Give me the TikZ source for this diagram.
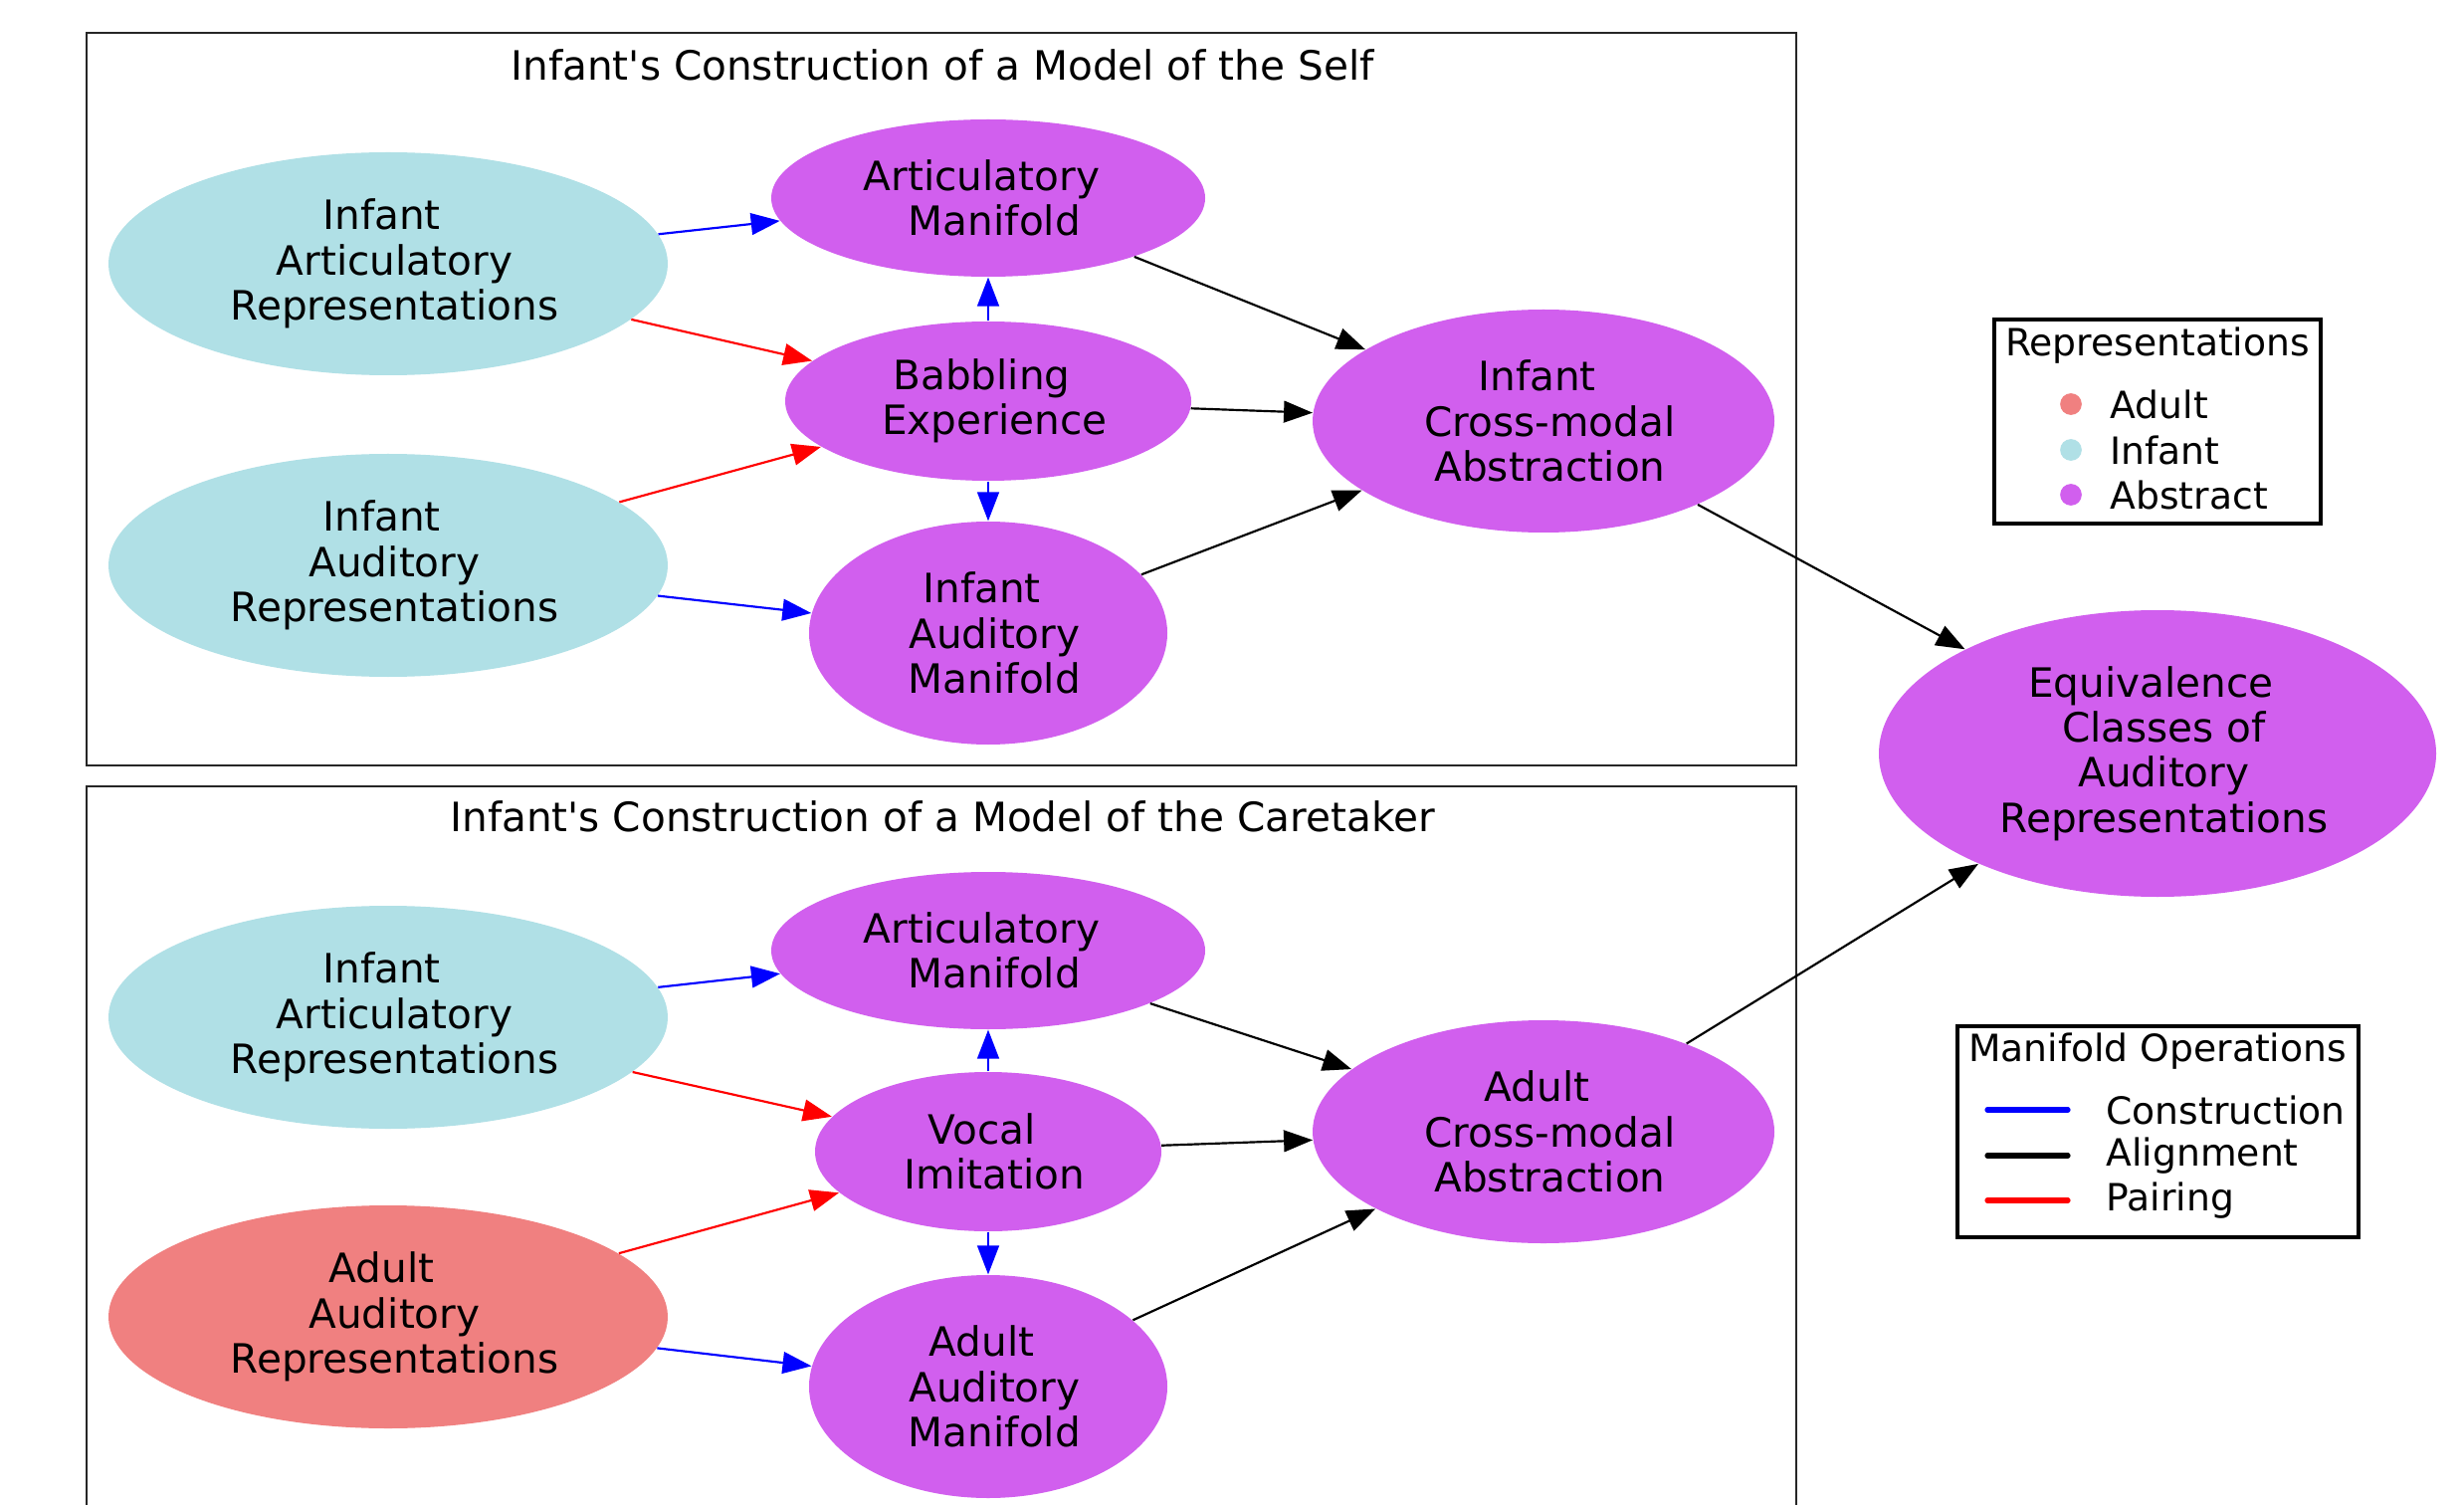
\documentclass[tikz,border=0pt]{standalone}
\usepackage{fontspec}
\setmainfont{DejaVu Sans}
\newfontfamily\dvs{DejaVu Sans}
\usetikzlibrary{shapes.geometric,arrows.meta}
\definecolor{pblue}{HTML}{B0E0E6}
\definecolor{lcoral}{HTML}{F08080}
\definecolor{orchid}{HTML}{D15FEE}
\newcommand\gsp{\hspace*{4.45pt}}
\tikzset{
  el/.style n args={3}{ellipse, draw=none, fill=#3, inner sep=0pt,
    minimum width=#1*0.69pt, minimum height=#2*0.69pt, align=center,
    font=\dvs\fontsize{14}{15.6}\selectfont},
  txt/.style={inner sep=0pt, font=\dvs\fontsize{14}{15.6}\selectfont},
  legtxt/.style={inner sep=0pt, font=\dvs\fontsize{13}{15}\selectfont},
  con/.style={-{Triangle[length=10pt,width=7.5pt]}, line width=0.75pt},
  cluster/.style={draw=black!85, line width=0.7pt},
  legbox/.style={draw=black, line width=1.2pt, rectangle, inner sep=0pt},
  legline/.style={line width=1.8pt, line cap=round},
  legdot/.style={circle, inner sep=0pt, minimum size=7.5pt, fill=#1},
}
\begin{document}
\begin{tikzpicture}[x=0.345pt,y=-0.345pt]
\clip (0,0) rectangle (2476,1512);
\fill[white] (0,0) rectangle (2476,1512);

% clusters
\draw[cluster] (87,33) rectangle (1805,769);
\draw[cluster] (87,790) rectangle (1805,1560);
\node[txt] (t1) at (947,65) {Infant's Construction of a Model of the Self};
\node[txt] (t2) at (947,820) {Infant's Construction of a Model of the Caretaker};

% top cluster nodes
\node[el={281}{112}{pblue}] (iar1) at (390,265) {Infant\gsp\\\gsp Articulatory\gsp\\\gsp Representations};
\node[el={218}{79}{orchid}] (am1) at (993,199) {Articulatory\gsp\\\gsp Manifold};
\node[el={204}{80}{orchid}] (be) at (993,403) {Babbling\gsp\\\gsp Experience};
\node[el={281}{112}{pblue}] (iaur) at (390,568) {Infant\gsp\\\gsp Auditory\gsp\\\gsp Representations};
\node[el={180}{112}{orchid}] (iam) at (993,636) {Infant\gsp\\\gsp Auditory\gsp\\\gsp Manifold};
\node[el={232}{112}{orchid}] (ica) at (1551,423) {Infant\gsp\\\gsp Cross-modal\gsp\\\gsp Abstraction};

% equivalence
\node[el={280}{144}{orchid}] (eq) at (2168,757) {Equivalence\gsp\\\gsp Classes of\gsp\\\gsp Auditory\gsp\\\gsp Representations};

% bottom cluster nodes
\node[el={281}{112}{pblue}] (iar2) at (390,1022) {Infant\gsp\\\gsp Articulatory\gsp\\\gsp Representations};
\node[el={218}{79}{orchid}] (am2) at (993,955) {Articulatory\gsp\\\gsp Manifold};
\node[el={174}{80}{orchid}] (vi) at (993,1157) {Vocal\gsp\\\gsp Imitation};
\node[el={281}{112}{lcoral}] (aar) at (390,1323) {Adult\gsp\\\gsp Auditory\gsp\\\gsp Representations};
\node[el={180}{112}{orchid}] (aam) at (993,1393) {Adult\gsp\\\gsp Auditory\gsp\\\gsp Manifold};
\node[el={232}{112}{orchid}] (aca) at (1551,1137) {Adult\gsp\\\gsp Cross-modal\gsp\\\gsp Abstraction};

% top edges
\draw[con, blue] (iar1) -- (am1);
\draw[con, red] (iar1) -- (be);
\draw[con, red] (iaur) -- (be);
\draw[con, blue] (iaur) -- (iam);
\draw[con, blue] (be) -- (am1);
\draw[con, blue] (be) -- (iam);
\draw[con, black] (am1) -- (ica);
\draw[con, black] (be) -- (ica);
\draw[con, black] (iam) -- (ica);
\draw[con, black] (ica) -- (eq);

% bottom edges
\draw[con, blue] (iar2) -- (am2);
\draw[con, red] (iar2) -- (vi);
\draw[con, red] (aar) -- (vi);
\draw[con, blue] (aar) -- (aam);
\draw[con, blue] (vi) -- (am2);
\draw[con, blue] (vi) -- (aam);
\draw[con, black] (am2) -- (aca);
\draw[con, black] (vi) -- (aca);
\draw[con, black] (aam) -- (aca);
\draw[con, black] (aca) -- (eq);

% legend 1
\node[legbox, minimum width=328*0.345pt, minimum height=205*0.345pt] (leg1) at (2168,423.5) {};
\node[legtxt] (leg1t) at (2168,347) {Representations};
\node[legdot=lcoral] (d1) at (2081,406) {};
\node[legdot=pblue] (d2) at (2081,452) {};
\node[legdot=orchid] (d3) at (2081,497) {};
\node[legtxt, anchor=west] (l1) at (2120,406) {Adult};
\node[legtxt, anchor=west] (l2) at (2120,452) {Infant};
\node[legtxt, anchor=west] (l3) at (2120,497) {Abstract};

% legend 2
\node[legbox, minimum width=403*0.345pt, minimum height=212*0.345pt] (leg2) at (2168.5,1137) {};
\node[legtxt] (leg2t) at (2168,1056) {Manifold Operations};
\draw[legline, blue] (1997,1115) -- (2078,1115);
\draw[legline, black] (1997,1161) -- (2078,1161);
\draw[legline, red] (1997,1206) -- (2078,1206);
\node[legtxt, anchor=west] (m1) at (2116,1115) {Construction};
\node[legtxt, anchor=west] (m2) at (2116,1161) {Alignment};
\node[legtxt, anchor=west] (m3) at (2116,1206) {Pairing};
\end{tikzpicture}
\end{document}
